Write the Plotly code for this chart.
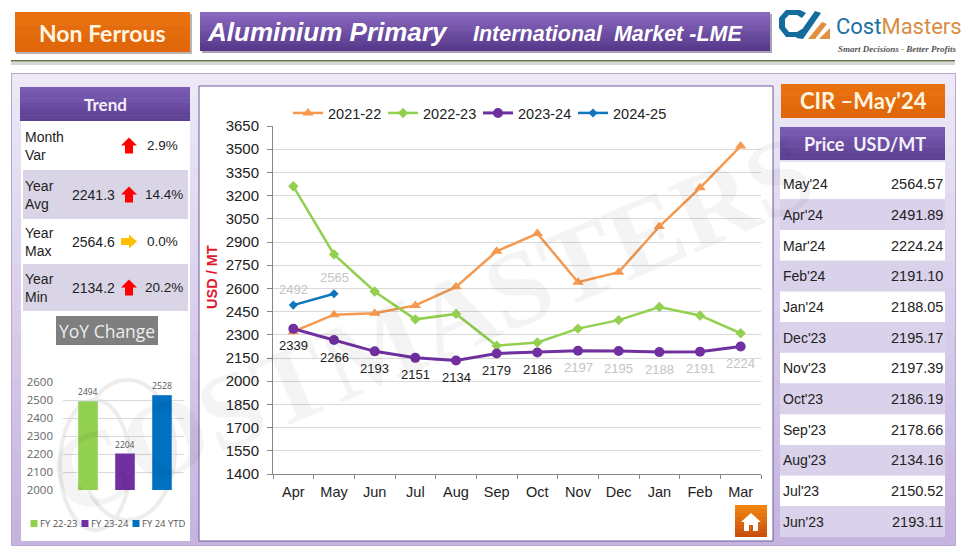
import plotly.graph_objects as go

W, H = 964, 548
months = ["Apr","May","Jun","Jul","Aug","Sep","Oct","Nov","Dec","Jan","Feb","Mar"]
fy2122 = [2320,2430,2440,2490,2610,2840,2955,2640,2705,3000,3250,3520]
fy2223 = [3260,2820,2580,2400,2435,2230,2250,2340,2395,2480,2425,2310]
fy2324 = [2339,2266,2193,2151,2134,2179,2186,2197,2195,2188,2191,2224]
fy2425 = [2492,2565]
yoy_names = ["FY 22-23","FY 23-24","FY 24 YTD"]
yoy_vals = [2494,2204,2528]
yoy_cols = ["#92D050","#7030A0","#0070C0"]
price_months = ["May'24","Apr'24","Mar'24","Feb'24","Jan'24","Dec'23","Nov'23","Oct'23","Sep'23","Aug'23","Jul'23","Jun'23"]
price_vals = ["2564.57","2491.89","2224.24","2191.10","2188.05","2195.17","2197.39","2186.19","2178.66","2134.16","2150.52","2193.11"]
trend_rows = [("Month<br>Var","","2.9%","up"),("Year<br>Avg","2241.3","14.4%","up"),("Year<br>Max","2564.6","0.0%","right"),("Year<br>Min","2134.2","20.2%","up")]

def X(p): return p / W
def Y(p): return 1 - p / H
shapes, annos = [], []

def rect(x0, y0, x1, y1, fill, line=None, lw=0, layer="below"):
    shapes.append(dict(type="rect", xref="paper", yref="paper", x0=X(x0), x1=X(x1), y0=Y(y0), y1=Y(y1),
                       fillcolor=fill, line=dict(color=line or fill, width=lw), layer=layer))

def grad(x0, y0, x1, y1, c0, c1, n=12, layer="below"):
    a = [int(c0[i:i+2], 16) for i in (1,3,5)]
    b = [int(c1[i:i+2], 16) for i in (1,3,5)]
    for i in range(n):
        t = i / (n - 1)
        c = "#" + "".join(f"{round(a[k]+(b[k]-a[k])*t):02x}" for k in range(3))
        rect(x0, y0 + (y1-y0)*i/n, x1, min(y1, y0 + (y1-y0)*(i+1)/n + 0.5), c, layer=layer)

def text(x, y, s, size=14, color="#222222", font="Liberation Sans", anchor="center", angle=0, opacity=1):
    annos.append(dict(xref="paper", yref="paper", x=X(x), y=Y(y), text=s, showarrow=False, xanchor=anchor, yanchor="middle",
                      font=dict(size=size, color=color, family=font), textangle=angle, opacity=opacity, align="left"))

def path(pts, fill, layer="above"):
    d = "M " + " L ".join(f"{X(a):.5f},{Y(b):.5f}" for a, b in pts) + " Z"
    shapes.append(dict(type="path", xref="paper", yref="paper", path=d, fillcolor=fill, line=dict(width=0), layer=layer))

def up(cx, cy):
    path([(cx,cy-8),(cx+8,cy),(cx+4,cy),(cx+4,cy+8),(cx-4,cy+8),(cx-4,cy),(cx-8,cy)], "#FF0000")
def right(cx, cy):
    path([(cx+8,cy),(cx,cy-7),(cx,cy-3.5),(cx-8,cy-3.5),(cx-8,cy+3.5),(cx,cy+3.5),(cx,cy+7)], "#FFC000")

# header
rect(16, 14, 192, 54, "#bdb5ad")
grad(15, 12, 190, 52, "#E8700F", "#E0680A", 3)
text(102, 33, "<b>Non Ferrous</b>", 23, "#FFF4E0", "Lato")
rect(202, 14, 772, 53, "#a9a4b5")
grad(200, 12, 770, 51, "#8a68c0", "#56398a")
text(205, 32, "<b><i>Aluminium Primary</i></b>", 26, "#FFFFFF", anchor="left")
text(471, 34, "<b><i>International  Market -LME</i></b>", 21.5, "#FFFFFF", anchor="left")
# logo
path([(806,13),(800,10),(786,10),(779,18),(779,28),(786,37),(800,37),(806,33),(802,29),(797,32),(789,32),(785,27),(785,19),(789,15),(797,15),(802,18)], "#136C9C")
path([(796,38),(815,11),(821,13),(803,39)], "#136C9C")
path([(808,39),(822,22),(827,24),(815,39)], "#E0913F")
path([(819,39),(830,28),(830,39)], "#E0913F")
text(834, 27, "<span style='color:#1A6FA3'>Cost</span><span style='color:#D98D46'>Masters</span>", 22, "#1A6FA3", "Roboto", anchor="left")
text(836, 49, "<b><i>Smart Decisions - Better Profits</i></b>", 9, "#555555", "Liberation Serif", anchor="left")
rect(11, 60, 955, 61.5, "#5c7040")
rect(11, 62, 955, 65, "#d5d5d5")

# main panel
rect(11, 73, 956, 546, "#b8a8d4")
grad(12, 74, 955, 545, "#ece8f6", "#c6b4e0", 20)

# left column
grad(20, 87, 190, 121, "#7b5db4", "#5b3f92")
text(105, 104, "<b>Trend</b>", 17, "#F4F0FA", "Lato")
rect(21, 121, 190, 541, "#FFFFFF")
rows_y = [(121,170),(170,219),(219,264),(264,311)]
for i, (tr, (a, b)) in enumerate(zip(trend_rows, rows_y)):
    if i % 2:
        rect(23, a, 188, b, "#DAD5E6")
    c = (a + b) / 2
    text(23, c, tr[0], 14, "#222222", anchor="left")
    if tr[1]:
        text(117, c, tr[1], 14, "#222222", anchor="right")
    text(185 if i in (1, 3) else 180, c, tr[2], 13.5, "#222222", anchor="right")
    (up if tr[3] == "up" else right)(129, c)
rect(56, 316, 158, 345, "#7F7F7F")
text(107, 331, "YoY Change", 17.5, "#EDEDED", "Open Sans")

# centre and right
rect(199, 86, 773, 541, "#FFFFFF", "#6a5a9a", 1)
grad(781, 84, 945, 118, "#E8700F", "#E0680A", 3)
text(863, 101, "<b>CIR –May'24</b>", 22, "#FFF4E0", "Lato")
grad(780, 127, 945, 160, "#7b5db4", "#5b3f92")
text(865, 144, "<b>Price  USD/MT</b>", 18, "#F4F0FA", "Lato")
rect(780, 162, 945, 169, "#FFFFFF")
for i, (m, v) in enumerate(zip(price_months, price_vals)):
    a = 168.6 + i * 30.7
    rect(780, a, 945, a + 30.7, "#DAD1EA" if i % 2 else "#FFFFFF")
    text(781, a + 15.5, m, 14, "#222222", anchor="left")
    text(945, a + 15.5, v, 14.5, "#222222", anchor="right")

# watermark
text(430, 325, "<b>COSTMASTERS</b>", 108, "#000000", "Liberation Serif", angle=-23, opacity=0.04)
for (x0, y0, x1, y1) in [(60, 400, 130, 530), (80, 380, 175, 520)]:
    shapes.append(dict(type="circle", xref="paper", yref="paper", x0=X(x0), x1=X(x1), y0=Y(y0), y1=Y(y1),
                       line=dict(color="#ededed", width=4), layer="below"))

# home button
grad(735, 505, 767, 537, "#F0850F", "#C9500F", 8, layer="above")
path([(751,513),(761,522),(758,522),(758,531),(753,531),(753,525),(749,525),(749,531),(744,531),(744,522),(741,522)], "#FFFFFF")

# bar chart legend
for lx, n, c in zip([34, 85, 136], yoy_names, yoy_cols):
    rect(lx-3.5, 520, lx+3.5, 527, c)
    text(lx+4, 523, n, 9.5, "#555555", "Open Sans", anchor="left")

# axis title
text(212, 277, "<b>USD / MT</b>", 14.5, "#E0182D", angle=-90)

fig = go.Figure()
series = [("2021-22", fy2122, "#F4994F", "triangle-up", 10, 2.5),
          ("2022-23", fy2223, "#92D050", "diamond", 8, 2.5),
          ("2023-24", fy2324, "#7030A0", "circle", 10, 3),
          ("2024-25", fy2425, "#0F75BD", "diamond", 7, 2.5)]
for n, v, c, s, z, w in series:
    fig.add_trace(go.Scatter(x=months[:len(v)], y=v, name=n, mode="lines+markers", xaxis="x", yaxis="y",
                             line=dict(color=c, width=w), marker=dict(color=c, symbol=s, size=z)))

clear = 7
for m, v, i in zip(months, fy2324, range(12)):
    annos.append(dict(xref="x", yref="y", x=m, y=v, text=str(v), showarrow=False, yshift=-17,
                      font=dict(size=13, color="#222222" if i < clear else "#c4c4c4", family="Liberation Sans")))
for m, v in zip(months, fy2425):
    annos.append(dict(xref="x", yref="y", x=m, y=v, text=str(v), showarrow=False, yshift=16,
                      font=dict(size=13, color="#c4c4c4", family="Liberation Sans")))

for n, v, c in zip(yoy_names, yoy_vals, yoy_cols):
    fig.add_trace(go.Bar(x=[n], y=[v], name=n, xaxis="x2", yaxis="y2", marker_color=c, width=0.54,
                         text=[str(v)], textposition="outside", cliponaxis=False, showlegend=False,
                         textfont=dict(size=9.5, color="#555555", family="Open Sans")))

axis_font = dict(size=15, color="#222222", family="Liberation Sans")
fig.update_layout(
    width=W, height=H, autosize=False, margin=dict(l=0, r=0, t=0, b=0, autoexpand=False), paper_bgcolor="#FFFFFF", plot_bgcolor="rgba(0,0,0,0)",
    font=dict(family="Liberation Sans"), shapes=shapes, annotations=annos, bargap=0.46, hovermode=False,
    xaxis=dict(domain=[X(273), X(761)], anchor="y", type="category", categoryorder="array", categoryarray=months,
               tickson="boundaries", ticks="outside", ticklen=4, tickcolor="#868686", linecolor="#868686", showline=True,
               showgrid=False, tickfont=dict(size=14.5, color="#222222", family="Liberation Sans"), range=[-0.5, 11.5], ticklabelstandoff=5),
    yaxis=dict(domain=[Y(474), Y(126)], anchor="x", range=[1400, 3650], tick0=1400, dtick=150, gridcolor="#D9D9D9",
               showline=True, linecolor="#868686", ticks="outside", ticklen=5, tickcolor="#868686", tickfont=axis_font,
               zeroline=False, ticklabelstandoff=5),
    xaxis2=dict(domain=[X(63), X(184)], anchor="y2", type="category", categoryorder="array", categoryarray=yoy_names,
                range=[-0.676, 2.595], showticklabels=False, ticks="", showgrid=False, showline=False),
    yaxis2=dict(domain=[Y(490), Y(382)], anchor="x2", range=[2000, 2600], dtick=100, gridcolor="#D9D9D9", showline=False,
                tickfont=dict(size=11.5, color="#666666", family="Open Sans"), zeroline=False, ticklabelstandoff=9),
    legend=dict(orientation="h", x=X(288), y=Y(97), xanchor="left", yanchor="top", font=dict(size=14.5, color="#222222"),
                bgcolor="rgba(0,0,0,0)", itemwidth=30, traceorder="normal", itemclick=False, itemdoubleclick=False,
                entrywidth=50, entrywidthmode="pixels"),
)
fig.write_html("out.html", config=dict(displayModeBar=False),
               post_script="document.body.style.margin='0';document.body.style.overflow='hidden';")
